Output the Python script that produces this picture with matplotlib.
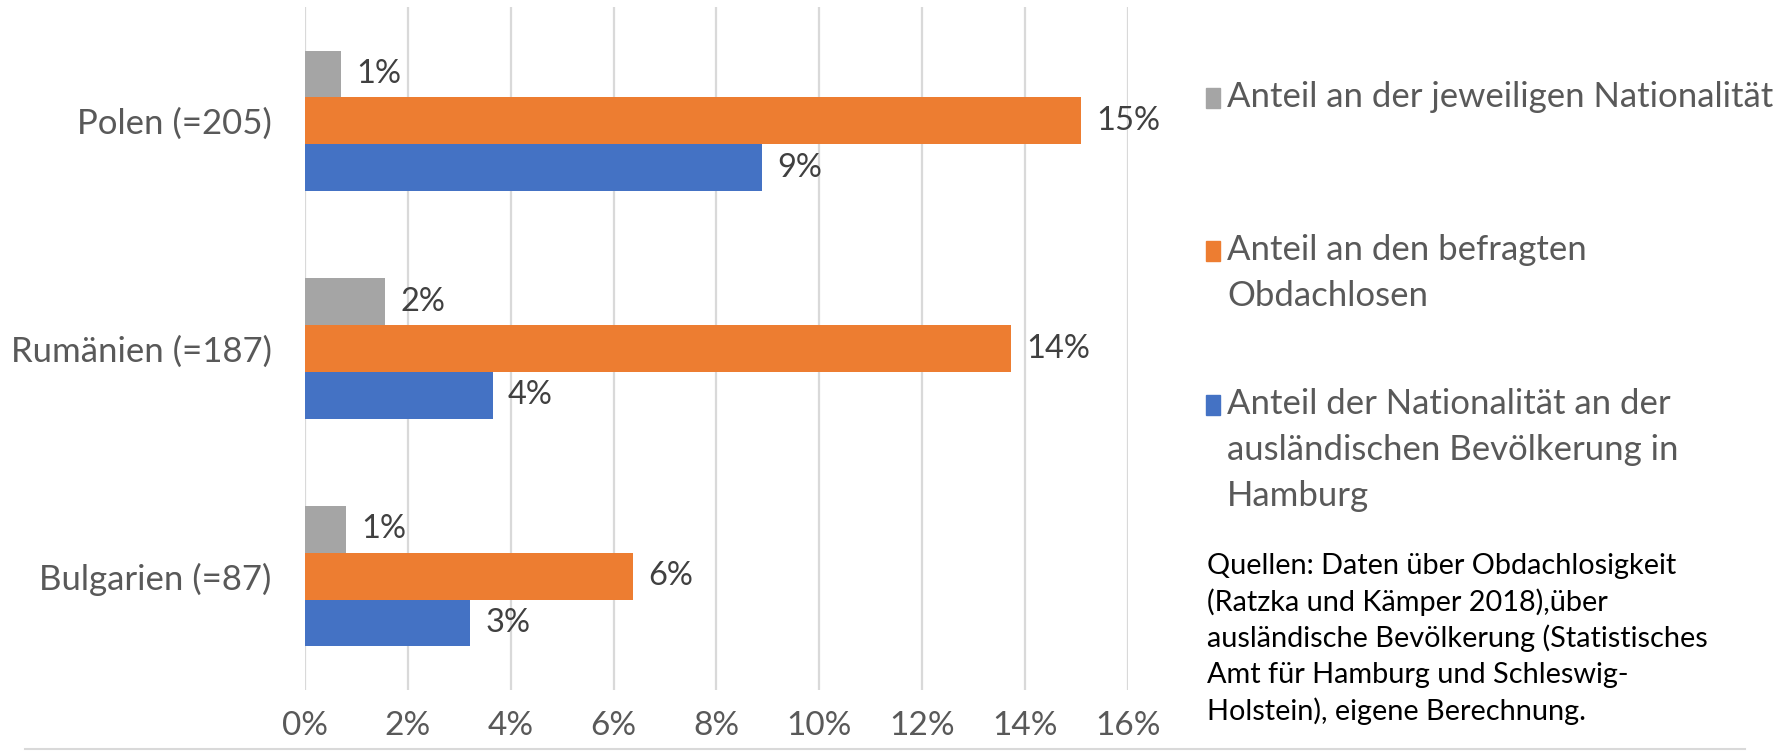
from matplotlib import pyplot as plt
from matplotlib.lines import Line2D
from matplotlib.patches import Rectangle
import numpy as np

plt.rcParams['font.family'] = ['Lato', 'DejaVu Sans']

categories = ['Polen (=205)', 'Rumänien (=187)', 'Bulgarien (=87)']
share_nationality = [0.70, 1.56, 0.80]      # grey
share_homeless = [15.09, 13.73, 6.37]       # orange
share_foreign_pop = [8.89, 3.65, 3.21]      # blue
value_labels_grey = ['1%', '2%', '1%']
value_labels_orange = ['15%', '14%', '6%']
value_labels_blue = ['9%', '4%', '3%']
xticks = [0, 2, 4, 6, 8, 10, 12, 14, 16]
legend_labels = ['Anteil an der jeweiligen Nationalität',
                 'Anteil an den befragten\nObdachlosen',
                 'Anteil der Nationalität an der\nausländischen Bevölkerung in\nHamburg']
source_text = ('Quellen: Daten über Obdachlosigkeit\n(Ratzka und Kämper 2018),über\n'
               'ausländische Bevölkerung (Statistisches\nAmt für Hamburg und Schleswig-\n'
               'Holstein), eigene Berechnung.')

GREY = '#a5a5a5'
ORANGE = '#ed7d31'
BLUE = '#4472c4'
TXT = '#595959'
VAL = '#404040'

W, H = 1790, 755
fig = plt.figure(figsize=(W / 100, H / 100), dpi=100)
ax = fig.add_axes([305 / W, 1 - 690 / H, (1128 - 305) / W, (690 - 7) / H])

y = np.arange(len(categories))
h = 0.205
series = [(share_nationality, GREY, value_labels_grey, -h),
          (share_homeless, ORANGE, value_labels_orange, 0.0),
          (share_foreign_pop, BLUE, value_labels_blue, h)]
for vals, col, labs, off in series:
    bars = ax.barh(y + off, vals, height=h, color=col, zorder=3)
    for b, lab in zip(bars, labs):
        ax.annotate(lab, (b.get_width(), b.get_y() + b.get_height() / 2),
                    xytext=(11, 0), textcoords='offset points',
                    va='center', ha='left', fontsize=23.5, color=VAL)

ax.set_xlim(0, 16)
ax.set_ylim(2.5, -0.5)
ax.set_xticks(xticks)
ax.set_xticklabels([f'{t}%' for t in xticks])
ax.set_yticks(y)
ax.set_yticklabels(categories)
ax.tick_params(axis='x', length=0, pad=15, labelsize=24, labelcolor=TXT)
ax.tick_params(axis='y', length=0, pad=24, labelsize=25, labelcolor=TXT)
ax.grid(axis='x', color='#d9d9d9', linewidth=1.6, zorder=0)
for s in ax.spines.values():
    s.set_visible(False)

# legend drawn by hand to mimic the spread-out Excel legend
leg_y = [97, 250, 404]
line_h = 46
for (vals, col, labs, off), lab, yy in zip(series, legend_labels, leg_y):
    fig.add_artist(Rectangle((1206 / W, 1 - (yy + 11) / H), 14 / W, 20 / H,
                             transform=fig.transFigure, color=col))
    for i, part in enumerate(lab.split('\n')):
        fig.text(1227 / W, 1 - (yy + i * line_h) / H, part, fontsize=25,
                 color=TXT, ha='left', va='center')

src_y = [566, 602, 638, 675, 711]
for part, yy in zip(source_text.split('\n'), src_y):
    fig.text(1207 / W, 1 - yy / H, part, fontsize=20.8, color='black',
             ha='left', va='center')

fig.add_artist(Line2D([25 / W, 1745 / W], [1 - 749 / H, 1 - 749 / H],
                      color='#d9d9d9', linewidth=1.5, transform=fig.transFigure))

fig.savefig('out.png', dpi=100)
